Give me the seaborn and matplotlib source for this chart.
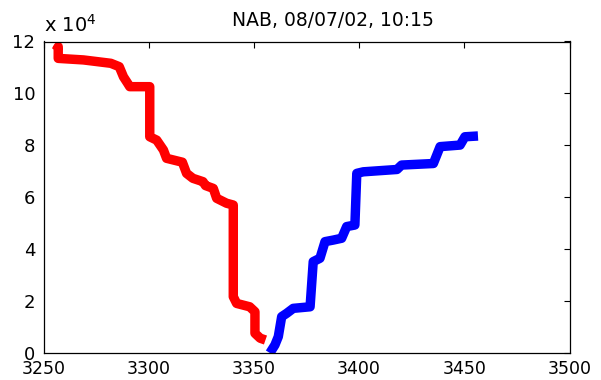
import matplotlib
matplotlib.use("Agg")
import matplotlib.pyplot as plt
import seaborn as sns
import pandas as pd
from matplotlib.ticker import FuncFormatter

# Bid side (red) cumulative depth
bid_price = [3256.0, 3257.0, 3257.0, 3269.0, 3282.0, 3286.0, 3288.0, 3290.0, 3291.0,
             3300.5, 3300.5, 3303.8, 3307.0, 3308.5, 3316.0, 3318.0, 3321.0, 3325.8,
             3327.0, 3330.7, 3332.3, 3337.0, 3340.2, 3340.2, 3341.8, 3348.0, 3350.5,
             3350.5, 3353.0, 3355.5]
bid_depth = [116500, 118000, 113500, 112900, 111600, 110300, 106400, 103900, 102600,
             102600, 83300, 82000, 78200, 75000, 73500, 69200, 67300, 66000,
             64500, 63400, 59600, 57700, 57000, 21700, 19100, 17800, 15900,
             7600, 5700, 5000]

# Ask side (blue) cumulative depth
ask_price = [3357.6, 3360.0, 3361.6, 3363.2, 3365.6, 3368.7, 3376.7, 3378.2, 3381.4,
             3383.8, 3387.7, 3391.7, 3394.1, 3398.0, 3398.9, 3402.0, 3418.0, 3420.2,
             3435.3, 3438.5, 3448.0, 3450.3, 3456.5]
ask_depth = [0, 3100, 6300, 14000, 15300, 17200, 17800, 35200, 36500,
             42900, 43500, 44200, 48700, 49300, 69200, 69800, 70700, 72400,
             73000, 79500, 80100, 83300, 83600]

title = "NAB, 08/07/02, 10:15"
x_ticks = [3250, 3300, 3350, 3400, 3450, 3500]
y_ticks = [0, 20000, 40000, 60000, 80000, 100000, 120000]

sns.set_style("white")
plt.rcParams['font.family'] = ['DejaVu Sans']
plt.rcParams['text.color'] = 'black'

fig = plt.figure(figsize=(6.01, 3.80), dpi=100)
ax = fig.add_axes([43.5 / 601, 27 / 380, 526 / 601, 311.5 / 380])

bid_df = pd.DataFrame({"price": bid_price, "depth": bid_depth})
ask_df = pd.DataFrame({"price": ask_price, "depth": ask_depth})

sns.lineplot(data=bid_df, x="price", y="depth", sort=False, estimator=None,
             color="#FF0000", linewidth=6.8, ax=ax)
sns.lineplot(data=ask_df, x="price", y="depth", sort=False, estimator=None,
             color="#0000FF", linewidth=6.8, ax=ax)
for ln in ax.get_lines():
    ln.set_solid_joinstyle("round")
    ln.set_solid_capstyle("butt")

ax.set_xlim(3250, 3500)
ax.set_ylim(0, 120000)
ax.set_xticks(x_ticks)
ax.set_yticks(y_ticks)
ax.set_xticklabels([str(t) for t in x_ticks])
ax.yaxis.set_major_formatter(FuncFormatter(lambda v, p: f"{v/1e4:g}"))
ax.set_xlabel("")
ax.set_ylabel("")

for s in ax.spines.values():
    s.set_visible(True)
    s.set_color("black")
    s.set_linewidth(0.9)

ax.tick_params(axis="both", which="major", direction="in", length=4, width=0.8,
               top=True, right=True, labelsize=13, colors="black",
               labelcolor="black")
ax.tick_params(axis="x", pad=5, labelsize=12.5)
ax.tick_params(axis="y", pad=6)

t = ax.set_title(title, fontsize=13.5, pad=11, color="black")
t.set_x(0.55)

ax.text(0.0, 1.032, r"x 10$^4$", transform=ax.transAxes, fontsize=14,
        ha="left", va="baseline", color="black")

fig.savefig("out.png", dpi=100, facecolor="white")
